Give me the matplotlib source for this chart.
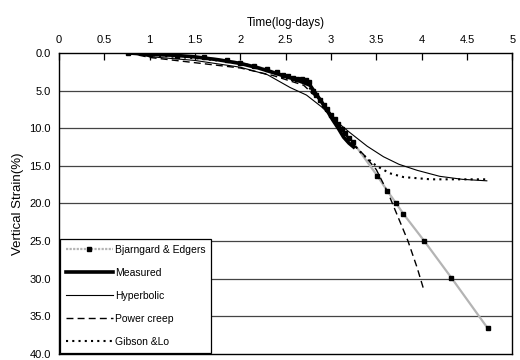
import matplotlib
matplotlib.use("Agg")
import matplotlib.pyplot as plt

plt.rcParams['font.family'] = ['Liberation Sans', 'DejaVu Sans']

x_ticks = [0, 0.5, 1, 1.5, 2, 2.5, 3, 3.5, 4, 4.5, 5]
x_tick_labels = ["0", "0.5", "1", "1.5", "2", "2.5", "3", "3.5", "4", "4.5", "5"]
y_ticks = [0, 5, 10, 15, 20, 25, 30, 35, 40]
y_tick_labels = ["0.0", "5.0", "10.0", "15.0", "20.0", "25.0", "30.0", "35.0", "40.0"]

bj_x = [0.76, 1.0, 1.3, 1.6, 1.85, 2.0, 2.15, 2.3, 2.4, 2.47,
        2.53, 2.58, 2.63, 2.68, 2.72, 2.76, 2.8, 2.84, 2.88, 2.92, 2.96, 3.0, 3.04,
        3.08, 3.12, 3.16, 3.2, 3.24, 3.51, 3.62, 3.72, 3.80, 4.03, 4.33, 4.73]
bj_y = [0.0, 0.2, 0.35, 0.6, 1.0, 1.3, 1.7, 2.2, 2.6, 2.9,
        3.1, 3.3, 3.4, 3.5, 3.6, 3.8, 5.0, 5.6, 6.3, 6.9, 7.5, 8.2, 8.8,
        9.5, 10.1, 10.7, 11.3, 11.8, 16.3, 18.3, 20.0, 21.4, 25.0, 29.9, 36.6]

meas_x = [0.76, 1.0, 1.25, 1.48, 1.75, 2.0, 2.2, 2.36, 2.55, 2.69, 2.77, 2.82, 2.88,
          2.95, 3.02, 3.08, 3.14, 3.2, 3.25]
meas_y = [0.0, 0.2, 0.3, 0.5, 0.9, 1.4, 2.0, 2.6, 3.3, 3.9, 4.3, 5.2, 6.2,
          7.5, 8.9, 10.0, 11.2, 12.0, 12.5]

hyp_x = [0.76, 1.0, 1.5, 2.0, 2.3, 2.55, 2.73, 2.9, 3.05, 3.21, 3.4, 3.58, 3.75,
         3.95, 4.2, 4.45, 4.72]
hyp_y = [0.0, 0.5, 1.0, 1.9, 2.9, 4.6, 5.6, 7.2, 9.0, 10.6, 12.4, 13.8, 14.8,
         15.6, 16.4, 16.8, 17.0]

pc_x = [0.76, 1.0, 1.5, 2.0, 2.36, 2.7, 2.9, 3.05, 3.2, 3.36, 3.5, 3.63, 3.74,
        3.85, 3.95, 4.03]
pc_y = [0.0, 0.6, 1.3, 2.0, 3.0, 4.3, 6.6, 9.0, 11.6, 13.5, 15.5, 18.6, 21.8,
        25.0, 28.5, 31.7]

gl_x = [0.76, 1.0, 1.5, 2.0, 2.36, 2.7, 2.9, 3.05, 3.2, 3.35, 3.5, 3.65, 3.8,
        4.1, 4.72]
gl_y = [0.0, 0.3, 0.7, 1.3, 2.5, 3.8, 6.5, 9.0, 11.5, 13.5, 15.0, 16.0, 16.5,
        16.8, 16.8]

fig = plt.figure(figsize=(5.2, 3.6), dpi=100)
ax = fig.add_axes([0.1135, 0.017, 0.8715, 0.836])

for yv in y_ticks[1:-1]:
    ax.axhline(yv, color='#444444', lw=0.9, zorder=1)

ax.plot(bj_x, bj_y, color='#b4b4b4', lw=1.6, marker='s', markersize=3.5,
        markerfacecolor='black', markeredgecolor='black', zorder=2)
ax.plot(meas_x, meas_y, color='black', lw=2.6, zorder=3)
ax.plot(hyp_x, hyp_y, color='black', lw=0.8, zorder=4)
ax.plot(pc_x, pc_y, color='black', lw=1.0, ls=(0, (5, 3)), zorder=4)
ax.plot(gl_x, gl_y, color='black', lw=1.5, ls=(0, (1, 2)), zorder=4)

# legend proxies
h_bj, = ax.plot([], [], color='#b4b4b4', lw=1.6, ls=(0, (1, 0.6)), marker='s', markersize=3.5,
                markerfacecolor='black', markeredgecolor='black')
h_me, = ax.plot([], [], color='black', lw=2.6)
h_hy, = ax.plot([], [], color='black', lw=0.8)
h_pc, = ax.plot([], [], color='black', lw=1.0, ls=(0, (5, 3)))
h_gl, = ax.plot([], [], color='black', lw=1.5, ls=(0, (1, 2)))

ax.set_xlim(0, 5)
ax.set_ylim(40, 0)
ax.xaxis.tick_top()
ax.xaxis.set_label_position('top')
ax.set_xticks(x_ticks)
ax.set_xticklabels(x_tick_labels)
ax.set_yticks(y_ticks)
ax.set_yticklabels(y_tick_labels)
ax.tick_params(axis='x', direction='in', length=5, width=0.9, labelsize=8, pad=6, colors='black')
ax.tick_params(axis='y', length=0, labelsize=8, pad=6)
ax.set_xlabel('Time(log-days)', fontsize=8.5, labelpad=6)
ax.set_ylabel('Vertical Strain(%)', fontsize=9.5, labelpad=4)
for s in ax.spines.values():
    s.set_color('black')
    s.set_linewidth(1.0)

leg = ax.legend([h_bj, h_me, h_hy, h_pc, h_gl],
                ['Bjarngard & Edgers', 'Measured', 'Hyperbolic', 'Power creep', 'Gibson &Lo'],
                loc='lower left', bbox_to_anchor=(0.0, 0.0), borderaxespad=0.1,
                fontsize=7.5, frameon=True, fancybox=False, edgecolor='black',
                framealpha=1, numpoints=1, handlelength=4.5, handletextpad=0.2,
                labelspacing=1.25, borderpad=0.55)
leg.get_frame().set_linewidth(0.9)

fig.savefig('out.png', dpi=100)
